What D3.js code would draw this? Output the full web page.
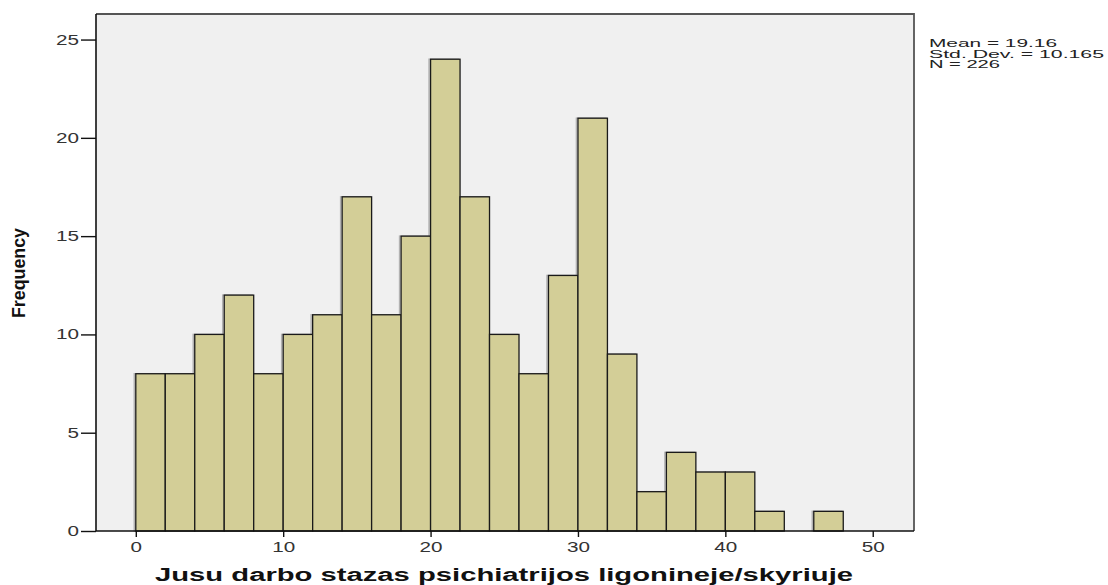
<!DOCTYPE html>
<html><head><meta charset="utf-8">
<script src="https://cdn.jsdelivr.net/npm/d3@7"></script>
<style>body{margin:0;background:#fff}svg{display:block}</style>
</head><body>
<svg id="c" width="1108" height="585"></svg>
<script>
const binStarts = [0,2,4,6,8,10,12,14,16,18,20,22,24,26,28,30,32,34,36,38,40,42,44,46];
const binWidth = 2;
const frequencies = [8,8,10,12,8,10,11,17,11,15,24,17,10,8,13,21,9,2,4,3,3,1,0,1];
const xTicks = [0,10,20,30,40,50];
const yTicks = [0,5,10,15,20,25];
const statLines = ["Mean = 19.16","Std. Dev. = 10.165","N = 226"];
const xTitle = "Jusu darbo stazas psichiatrijos ligonineje/skyriuje";
const yTitle = "Frequency";

const svg = d3.select("#c");
const L=96, R=914, T=14, B=531;
const x = d3.scaleLinear().domain([-2.7,52.8]).range([L,R]);
const y = d3.scaleLinear().domain([0,26.3]).range([B,T]);
const FONT = "Liberation Sans, Arial, sans-serif";

svg.append("rect").attr("x",L).attr("y",T).attr("width",R-L).attr("height",B-T).attr("fill","#f0f0f0");

const data = binStarts.map((s,i)=>({s, v:frequencies[i]})).filter(d=>d.v>0);
svg.append("g").selectAll("rect").data(data).join("rect")
  .attr("x",d=>x(d.s)-1.5).attr("y",d=>y(d.v)).attr("width",d=>x(d.s+binWidth)-x(d.s)).attr("height",d=>B-y(d.v))
  .attr("fill","none").attr("stroke","#888").attr("stroke-width",1.5).attr("opacity",0.6);
svg.append("g").selectAll("rect").data(data).join("rect")
  .attr("x",d=>x(d.s)).attr("y",d=>y(d.v)).attr("width",d=>x(d.s+binWidth)-x(d.s)).attr("height",d=>B-y(d.v))
  .attr("fill","#d3ce97").attr("stroke","#1a1a1a").attr("stroke-width",1.3);

svg.append("path").attr("d",`M${L},${T}H${R}V${B}`).attr("fill","none").attr("stroke","#555").attr("stroke-width",1.8);

const yAxis = svg.append("g").attr("transform",`translate(${L},0)`)
  .call(d3.axisLeft(y).tickValues(yTicks).tickSize(15).tickPadding(2));
const xAxis = svg.append("g").attr("transform",`translate(0,${B})`)
  .call(d3.axisBottom(x).tickValues(xTicks).tickSize(6).tickPadding(5));
[yAxis,xAxis].forEach(a=>{
  a.select(".domain").attr("stroke","#111").attr("stroke-width",1.6);
  a.selectAll(".tick line").attr("stroke","#111").attr("stroke-width",1.4);
  a.selectAll(".tick text").attr("fill","#333").attr("font-family",FONT).attr("font-size",14)
    .attr("textLength",function(){return this.textContent.length*11.5;}).attr("lengthAdjust","spacingAndGlyphs");
});
xAxis.select(".domain").attr("d",`M${L},0H${R}`);
yAxis.select(".domain").attr("d",`M0,${B}V${T}`);

svg.append("text").attr("x",504).attr("y",581).attr("text-anchor","middle")
  .attr("font-family",FONT).attr("font-weight","bold").attr("font-size",18)
  .attr("textLength",698).attr("lengthAdjust","spacingAndGlyphs").attr("fill","#111").text(xTitle);

svg.append("text").attr("transform","translate(25,273) rotate(-90)").attr("text-anchor","middle")
  .attr("font-family","Liberation Sans Narrow, Liberation Sans, Arial, sans-serif").attr("font-weight","bold").attr("font-size",19)
  .attr("textLength",90).attr("lengthAdjust","spacingAndGlyphs").attr("fill","#111").text(yTitle);

const statLen = [128,175,71];
svg.append("g").selectAll("text").data(statLines).join("text")
  .attr("x",929).attr("y",(d,i)=>47+i*10.5)
  .attr("font-family",FONT).attr("font-size",10.5).attr("fill","#222")
  .attr("textLength",(d,i)=>statLen[i]).attr("lengthAdjust","spacingAndGlyphs").text(d=>d);
</script>
</body></html>
